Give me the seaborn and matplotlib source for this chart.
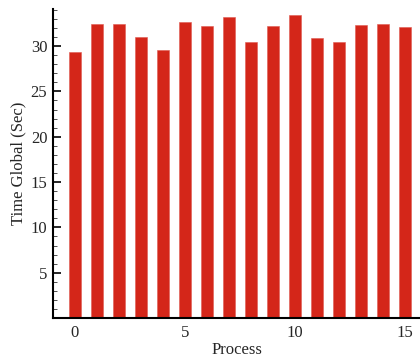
import numpy as np
import pandas as pd
import matplotlib
matplotlib.use("Agg")
import matplotlib.pyplot as plt
from matplotlib.ticker import MultipleLocator
import seaborn as sns

# data
process = list(range(16))
time_global = [29.3, 32.4, 32.4, 31.0, 29.6, 32.7, 32.2, 33.2,
               30.4, 32.2, 33.4, 30.9, 30.5, 32.3, 32.4, 32.1]

sns.set_style("ticks")
plt.rcParams['font.family'] = ['Liberation Serif', 'DejaVu Serif']

df = pd.DataFrame({"Process": process, "Time": time_global})

fig = plt.figure(figsize=(4.2, 3.57), dpi=100)
ax = fig.add_axes([0.126, 0.109, 0.874, 0.866])

sns.barplot(data=df, x="Process", y="Time", native_scale=True, width=0.55,
            color="#d42619", saturation=1, edgecolor="#e05a50", linewidth=0.4,
            ax=ax)

ax.set_xlim(-1, 15.7)
ax.set_ylim(0, 34.1)
ax.xaxis.set_major_locator(MultipleLocator(5))
ax.xaxis.set_minor_locator(MultipleLocator(1))
ax.yaxis.set_major_locator(MultipleLocator(5))
ax.yaxis.set_minor_locator(MultipleLocator(1))
ax.set_yticks([5, 10, 15, 20, 25, 30])
ax.tick_params(which="major", direction="in", length=6, width=1.2,
               labelsize=12, color="black")
ax.tick_params(which="minor", direction="in", length=3, width=0.6, color="#333333")
ax.tick_params(axis="x", pad=5)
ax.tick_params(axis="y", pad=4)

for s in ["top", "right"]:
    ax.spines[s].set_visible(False)
for s in ["left", "bottom"]:
    ax.spines[s].set_linewidth(1.5)
    ax.spines[s].set_color("black")

ax.set_xlabel("Process", fontsize=12, labelpad=1)
ax.set_ylabel("Time Global (Sec)", fontsize=12, labelpad=3)

fig.savefig("out.png", dpi=100)
